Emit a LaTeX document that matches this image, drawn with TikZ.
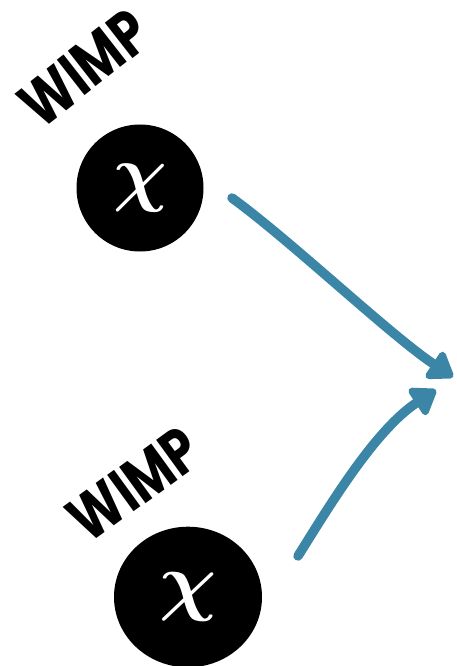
\documentclass[tikz,border=0pt]{standalone}
\usepackage{fontspec}
\usepackage{bm}
\setsansfont{Poppins}
\usetikzlibrary{arrows.meta}
\definecolor{arrowblue}{HTML}{3B86A7}
\tikzset{
  particle/.style={circle, fill=black, inner sep=0pt, text=white},
  wimplabel/.style={font=\sffamily\bfseries\fontsize{64}{64}\selectfont, inner sep=0pt},
  flow/.style={draw=arrowblue, line width=9.5pt, line cap=round,
    -{Triangle[round, length=27pt, width=36pt]}},
}
\begin{document}
\begin{tikzpicture}[x=1pt,y=-1pt]
\useasboundingbox (0,0) rectangle (457,666);
\node[particle, minimum size=127pt] (p1) at (140,188) {\scalebox{7.5}{$\bm{\chi}$}\hspace{16pt}};
\node[particle, minimum size=148pt, yscale=0.95] (p2) at (188,597) {\scalebox{8}{$\bm{\chi}$}\hspace{18pt}};
\node[wimplabel, rotate=38, xscale=0.78] (l1) at (84,68) {WIMP};
\node[wimplabel, rotate=36, xscale=0.78] (l2) at (134,484) {WIMP};
\coordinate (a1s) at (232,198);
\coordinate (a1e) at (453,377);
\coordinate (a2s) at (298,556);
\coordinate (a2e) at (436,390);
\draw[flow] (a1s) .. controls (290,240) and (390,335) .. (a1e);
\draw[flow] (a2s) .. controls (330,505) and (375,430) .. (a2e);
\end{tikzpicture}
\end{document}
